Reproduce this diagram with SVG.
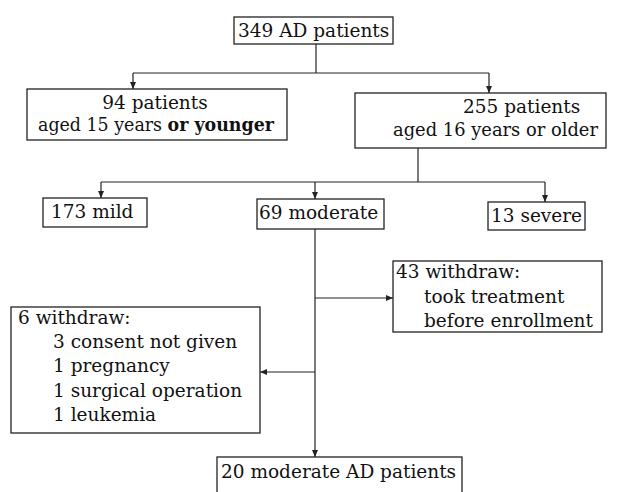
<svg xmlns="http://www.w3.org/2000/svg" width="617" height="492" viewBox="0 0 617 492">
<style>
.box{fill:#fff;stroke:#222;stroke-width:1.3}
.t{font-family:"DejaVu Serif","Liberation Serif",serif;font-size:18.5px;fill:#111}
.c{fill:none;stroke:#222;stroke-width:1.2}
</style>
<defs>
<marker id="a" markerWidth="8" markerHeight="8" refX="7" refY="4" orient="auto" markerUnits="userSpaceOnUse">
<path d="M0,1 L7,4 L0,7 Z" fill="#222"/>
</marker>
</defs>
<rect width="617" height="492" fill="#fff"/>
<g id="connectors">
<path class="c" d="M316,44 V73"/>
<path class="c" d="M133,73 H489"/>
<path class="c" d="M133,73 V89" marker-end="url(#a)"/>
<path class="c" d="M489,73 V93" marker-end="url(#a)"/>
<path class="c" d="M418,148 V182"/>
<path class="c" d="M101,182 H545"/>
<path class="c" d="M101,182 V198" marker-end="url(#a)"/>
<path class="c" d="M315,182 V199" marker-end="url(#a)"/>
<path class="c" d="M545,182 V202" marker-end="url(#a)"/>
<path class="c" d="M315,229 V457" marker-end="url(#a)"/>
<path class="c" d="M315,298 H393" marker-end="url(#a)"/>
<path class="c" d="M315,372 H260" marker-end="url(#a)"/>
</g>
<g id="n349">
<rect class="box" x="234" y="17" width="159" height="27"/>
<text class="t" x="238" y="37">349 AD patients</text>
</g>
<g id="n94">
<rect class="box" x="27" y="89" width="260" height="51"/>
<text class="t" x="155" y="109" text-anchor="middle">94 patients</text>
<text class="t" x="38" y="131" textLength="236" lengthAdjust="spacingAndGlyphs">aged 15 years <tspan font-weight="bold">or younger</tspan></text>
</g>
<g id="n255">
<rect class="box" x="355" y="93" width="251" height="55"/>
<text class="t" x="463" y="113">255 patients</text>
<text class="t" x="393" y="136" textLength="205" lengthAdjust="spacingAndGlyphs">aged 16 years or older</text>
</g>
<g id="nmild">
<rect class="box" x="43" y="198" width="104" height="29"/>
<text class="t" x="51" y="218">173 mild</text>
</g>
<g id="nmoderate">
<rect class="box" x="257" y="199" width="127" height="30"/>
<text class="t" x="259" y="219">69 moderate</text>
</g>
<g id="nsevere">
<rect class="box" x="488" y="202" width="97" height="28"/>
<text class="t" x="491" y="222">13 severe</text>
</g>
<g id="nw43">
<rect class="box" x="393" y="261" width="209" height="71"/>
<text class="t" x="396" y="278">43 withdraw:</text>
<text class="t" x="424" y="303">took treatment</text>
<text class="t" x="424" y="327">before enrollment</text>
</g>
<g id="nw6">
<rect class="box" x="11" y="307" width="249" height="126"/>
<text class="t" x="18" y="324">6 withdraw:</text>
<text class="t" x="53" y="348">3 consent not given</text>
<text class="t" x="53" y="372">1 pregnancy</text>
<text class="t" x="53" y="397">1 surgical operation</text>
<text class="t" x="53" y="421">1 leukemia</text>
</g>
<g id="n20">
<rect class="box" x="217" y="457" width="245" height="40"/>
<text class="t" x="221" y="478">20 moderate AD patients</text>
</g>
</svg>
